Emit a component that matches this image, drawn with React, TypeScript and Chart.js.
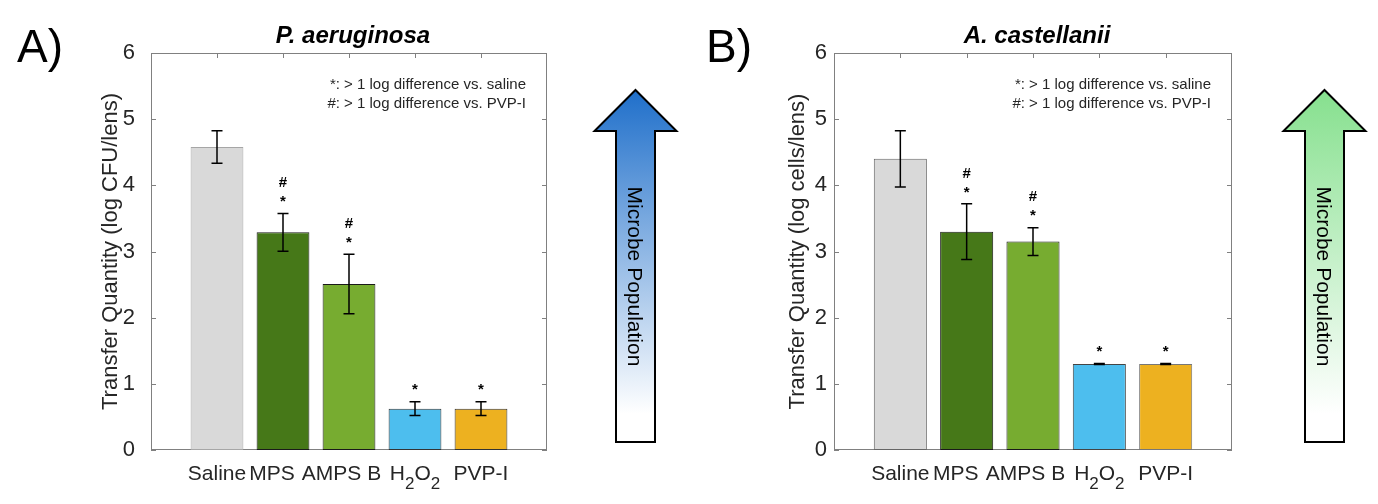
import { useEffect, useRef } from "react"
import { Chart, registerables } from "chart.js"

Chart.register(...registerables)

const FONT = "'Liberation Sans', Arial, sans-serif"
const TEXT = "#262626"
const AXIS = "#808080"

// categories (digits after a letter are drawn as subscripts: H2O2)
const categories = ["Saline", "MPS", "AMPS B", "H2O2", "PVP-I"]
const yTicks = [0, 1, 2, 3, 4, 5, 6]
const barColors = ["#d9d9d9", "#467818", "#77ac30", "#4dbeee", "#edb120"]
const noteLines = ["*: > 1 log difference vs. saline", "#: > 1 log difference vs. PVP-I"]

// A) P. aeruginosa
const aeruginosaMeans = [4.58, 3.29, 2.51, 0.625, 0.625]
const aeruginosaErrors = [0.245, 0.285, 0.45, 0.105, 0.105]
const aeruginosaStars = [false, true, true, true, true]
const aeruginosaHashes = [false, true, true, false, false]
const aeruginosaEdges = ["#a6a6a6", "#1a1a1a", "#1a1a1a", "#333333", "#333333"]

// B) A. castellanii
const castellaniiMeans = [4.4, 3.3, 3.15, 1.3, 1.3]
const castellaniiErrors = [0.425, 0.42, 0.21, 0.006, 0.006]
const castellaniiStars = [false, true, true, true, true]
const castellaniiHashes = [false, true, true, false, false]
const castellaniiEdges = ["#666666", "#1a1a1a", "#1a1a1a", "#444444", "#777777"]

// the original labels sit a little left of their bars for MPS and AMPS B
const labelShift = [0, -11, -7.5, 0, 0]

type PanelProps = {
  letter: string
  title: string
  yTitle: string
  means: number[]
  errors: number[]
  stars: boolean[]
  hashes: boolean[]
  edges: string[]
  arrowTop: string
  axisWidth: number
  padRight: number
  tickPad: number
  yTitleGap: number
}

function drawChemLabel(ctx: CanvasRenderingContext2D, text: string, cx: number, baseline: number) {
  const parts: { s: string; sub: boolean }[] = []
  for (let i = 0; i < text.length; i++) {
    const ch = text[i]
    const sub = /[0-9]/.test(ch) && i > 0 && /[A-Za-z]/.test(text[i - 1])
    parts.push({ s: ch, sub })
  }
  const big = `21px ${FONT}`
  const small = `17px ${FONT}`
  let total = 0
  for (const p of parts) {
    ctx.font = p.sub ? small : big
    total += ctx.measureText(p.s).width
  }
  let x = cx - total / 2
  ctx.textAlign = "left"
  ctx.textBaseline = "alphabetic"
  for (const p of parts) {
    ctx.font = p.sub ? small : big
    ctx.fillText(p.s, x, p.sub ? baseline + 9 : baseline)
    x += ctx.measureText(p.s).width
  }
}

function Panel(props: PanelProps) {
  const chartRef = useRef<HTMLCanvasElement>(null)
  const chartInstance = useRef<Chart | null>(null)

  useEffect(() => {
    if (!chartRef.current) return
    if (chartInstance.current) {
      chartInstance.current.destroy()
    }
    const ctx = chartRef.current.getContext("2d")
    if (!ctx) return

    const decorations = {
      id: "decorations",
      beforeDatasetsDraw(chart: any) {
        const { ctx, chartArea: a, scales } = chart
        ctx.save()
        ctx.strokeStyle = AXIS
        ctx.lineWidth = 1
        ctx.strokeRect(Math.round(a.left) + 0.5, Math.round(a.top) + 0.5, Math.round(a.right - a.left) - 1, Math.round(a.bottom - a.top) - 1)
        ctx.beginPath()
        for (const v of yTicks) {
          const y = Math.round(scales.y.getPixelForValue(v)) + 0.5
          ctx.moveTo(a.left, y)
          ctx.lineTo(a.left + 5, y)
          ctx.moveTo(a.right - 5, y)
          ctx.lineTo(a.right, y)
        }
        categories.forEach((_, i) => {
          const x = Math.round(scales.x.getPixelForValue(i + 1)) + 0.5
          ctx.moveTo(x, a.top)
          ctx.lineTo(x, a.top + 5)
          ctx.moveTo(x, a.bottom - 5)
          ctx.lineTo(x, a.bottom)
        })
        ctx.stroke()
        ctx.restore()
      },
      afterDatasetsDraw(chart: any) {
        const { ctx, scales } = chart
        ctx.save()
        ctx.strokeStyle = "#000000"
        ctx.fillStyle = "#000000"
        ctx.lineWidth = 1.5
        props.means.forEach((m, i) => {
          const x = scales.x.getPixelForValue(i + 1)
          const yHi = scales.y.getPixelForValue(m + props.errors[i])
          const yLo = scales.y.getPixelForValue(m - props.errors[i])
          ctx.beginPath()
          ctx.moveTo(x, yHi)
          ctx.lineTo(x, yLo)
          ctx.moveTo(x - 5.5, yHi)
          ctx.lineTo(x + 5.5, yHi)
          ctx.moveTo(x - 5.5, yLo)
          ctx.lineTo(x + 5.5, yLo)
          ctx.stroke()

          ctx.font = `bold 15px ${FONT}`
          ctx.textAlign = "center"
          ctx.textBaseline = "middle"
          let yMark = yHi - 14.5
          if (props.stars[i]) {
            ctx.fillText("*", x, yMark + 3)
            yMark -= 16
          }
          if (props.hashes[i]) {
            ctx.fillText("#", x, yMark)
          }
        })
        ctx.restore()
      },
      afterDraw(chart: any) {
        const { ctx, chartArea: a, scales } = chart
        ctx.save()
        ctx.fillStyle = TEXT

        // category labels
        categories.forEach((c, i) => {
          drawChemLabel(ctx, c, scales.x.getPixelForValue(i + 1) + labelShift[i], 480)
        })

        // notes
        ctx.font = `15px ${FONT}`
        ctx.textAlign = "right"
        ctx.textBaseline = "middle"
        noteLines.forEach((t, i) => {
          ctx.fillText(t, a.right - 21, a.top + 32 + i * 18.6)
        })

        // title
        ctx.fillStyle = "#000000"
        ctx.font = `italic bold 24px ${FONT}`
        ctx.textAlign = "center"
        ctx.textBaseline = "alphabetic"
        ctx.fillText(props.title, (a.left + a.right) / 2 + 4, 43)

        // y title
        ctx.fillStyle = TEXT
        ctx.save()
        ctx.translate(a.left - props.yTitleGap, (a.top + a.bottom) / 2)
        ctx.rotate(-Math.PI / 2)
        ctx.font = `22px ${FONT}`
        ctx.textAlign = "center"
        ctx.textBaseline = "middle"
        ctx.fillText(props.yTitle, 0, 0)
        ctx.restore()

        // panel letter
        ctx.fillStyle = "#000000"
        ctx.font = `46px ${FONT}`
        ctx.textAlign = "left"
        ctx.textBaseline = "alphabetic"
        ctx.fillText(props.letter, 17, 62)

        // arrow
        const cx = 635.5
        const tipY = 90
        const baseY = 131
        const bottomY = 442
        const headHalf = 41
        const shaftHalf = 19.5
        const grad = ctx.createLinearGradient(0, tipY, 0, bottomY)
        grad.addColorStop(0, props.arrowTop)
        grad.addColorStop(0.92, "#ffffff")
        grad.addColorStop(1, "#ffffff")
        ctx.beginPath()
        ctx.moveTo(cx, tipY)
        ctx.lineTo(cx + headHalf, baseY)
        ctx.lineTo(cx + shaftHalf, baseY)
        ctx.lineTo(cx + shaftHalf, bottomY)
        ctx.lineTo(cx - shaftHalf, bottomY)
        ctx.lineTo(cx - shaftHalf, baseY)
        ctx.lineTo(cx - headHalf, baseY)
        ctx.closePath()
        ctx.fillStyle = grad
        ctx.fill()
        ctx.strokeStyle = "#000000"
        ctx.lineWidth = 2
        ctx.lineJoin = "miter"
        ctx.stroke()

        ctx.save()
        ctx.translate(cx - 1.5, 276.5)
        ctx.rotate(Math.PI / 2)
        ctx.fillStyle = "#000000"
        ctx.font = `21px ${FONT}`
        ctx.textAlign = "center"
        ctx.textBaseline = "middle"
        ctx.fillText("Microbe Population", 0, 0)
        ctx.restore()

        ctx.restore()
      },
    }

    chartInstance.current = new Chart(ctx, {
      type: "bar",
      data: {
        labels: ["", ...categories, ""],
        datasets: [
          {
            data: [null, ...props.means, null],
            backgroundColor: ["#ffffff", ...barColors, "#ffffff"],
            borderColor: ["#ffffff", ...props.edges, "#ffffff"],
            borderWidth: 1,
            borderSkipped: false,
            categoryPercentage: 1,
            barPercentage: 0.8,
          },
        ],
      },
      options: {
        animation: false,
        responsive: true,
        maintainAspectRatio: false,
        events: [],
        layout: {
          padding: { left: 0, right: props.padRight, top: 53, bottom: 54 },
        },
        plugins: {
          legend: { display: false },
          tooltip: { enabled: false },
        },
        scales: {
          x: {
            display: false,
            offset: false,
          },
          y: {
            min: 0,
            max: 6,
            afterBuildTicks: (scale: any) => {
              scale.ticks = yTicks.map((v) => ({ value: v }))
            },
            afterFit: (scale: any) => {
              scale.width = props.axisWidth
            },
            grid: { display: false, drawTicks: false },
            border: { display: false },
            ticks: {
              padding: props.tickPad,
              color: TEXT,
              font: { size: 22, family: FONT },
            },
          },
        },
      },
      plugins: [decorations],
    })

    return () => {
      if (chartInstance.current) {
        chartInstance.current.destroy()
        chartInstance.current = null
      }
    }
  }, [])

  return (
    <div style={{ position: "relative", width: 689, height: 504 }}>
      <canvas ref={chartRef}></canvas>
    </div>
  )
}

export default function App() {
  return (
    <div
      style={{
        position: "fixed",
        left: 0,
        top: 0,
        width: 1378,
        height: 504,
        display: "flex",
        background: "#ffffff",
      }}
    >
      <Panel
        letter="A)"
        title="P. aeruginosa"
        yTitle="Transfer Quantity (log CFU/lens)"
        means={aeruginosaMeans}
        errors={aeruginosaErrors}
        stars={aeruginosaStars}
        hashes={aeruginosaHashes}
        edges={aeruginosaEdges}
        arrowTop="#1f6fca"
        axisWidth={151}
        padRight={142}
        tickPad={16}
        yTitleGap={40}
      />
      <Panel
        letter="B)"
        title="A. castellanii"
        yTitle="Transfer Quantity (log cells/lens)"
        means={castellaniiMeans}
        errors={castellaniiErrors}
        stars={castellaniiStars}
        hashes={castellaniiHashes}
        edges={castellaniiEdges}
        arrowTop="#86e08e"
        axisWidth={145}
        padRight={146}
        tickPad={7}
        yTitleGap={36}
      />
    </div>
  )
}
